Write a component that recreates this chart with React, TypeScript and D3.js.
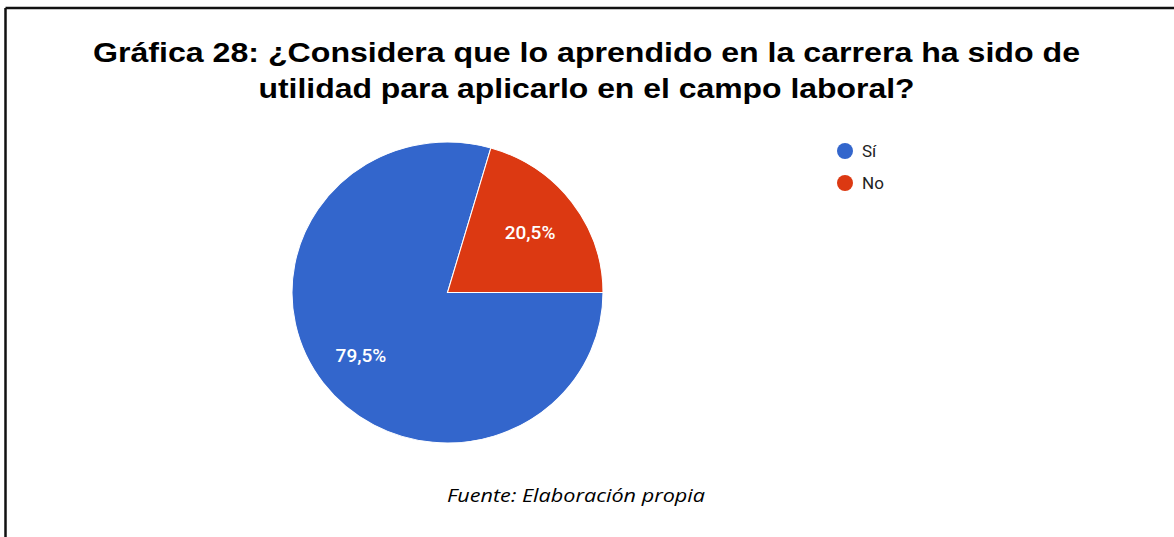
import React, { useEffect } from "react";
import * as d3 from "d3";

const categories = ["Sí", "No"];
const values = [79.5, 20.5];
const colors = ["#3366cc", "#dc3912"];
const titleLines = [
  "Gráfica 28: ¿Considera que lo aprendido en la carrera ha sido de",
  "utilidad para aplicarlo en el campo laboral?",
];
const source = "Fuente: Elaboración propia";

const W = 1174;
const H = 537;

export default function App() {
  useEffect(() => {
    document.body.style.margin = "0";
  }, []);

  const cx = 447.5;
  const cy = 292.5;
  const rx = 155.5;
  const ry = 150.5;
  const sx = rx / ry;

  const data = categories.map((c, i) => ({ name: c, value: values[i], color: colors[i] }));
  const pie = d3
    .pie<any>()
    .value((d) => d.value)
    .sort(null)
    .startAngle(Math.PI / 2)
    .endAngle(Math.PI / 2 + 2 * Math.PI);
  const arcs = pie(data);
  const arc = d3.arc<any>().innerRadius(0).outerRadius(ry);
  const labelArc = d3.arc<any>().innerRadius(ry * 0.68).outerRadius(ry * 0.68);
  const fmt = (v: number) => v.toFixed(1).replace(".", ",") + "%";

  // widths of the title lines as seen in the picture
  const titleWidths = [987, 656];

  return (
    <svg width={W} height={H} style={{ display: "block", background: "#fff" }}>
      {/* frame */}
      <line x1={5.5} y1={8} x2={W} y2={8} stroke="#111" strokeWidth={2.5} />
      <line x1={5.5} y1={8} x2={5.5} y2={H} stroke="#111" strokeWidth={2.5} />

      {titleLines.map((t, i) => (
        <text
          key={i}
          x={586.5}
          y={62 + i * 36}
          textAnchor="middle"
          fontFamily="'Liberation Sans', Arial, sans-serif"
          fontWeight="bold"
          fontSize={28}
          textLength={titleWidths[i]}
          lengthAdjust="spacingAndGlyphs"
          fill="#000"
        >
          {t}
        </text>
      ))}

      <g transform={`translate(${cx},${cy}) scale(${sx},1)`}>
        {arcs.map((a, i) => (
          <path key={i} d={arc(a) as string} fill={a.data.color} stroke="#fff" strokeWidth={1} />
        ))}
      </g>
      {arcs.map((a, i) => {
        const [lx, ly] = labelArc.centroid(a);
        return (
          <text
            key={i}
            x={cx + lx * sx - 2}
            y={cy + ly + 1}
            dy="0.35em"
            textAnchor="middle"
            fontFamily="Roboto, Arial, sans-serif"
            fontWeight={500}
            fontSize={19}
            fill="#fff"
          >
            {fmt(a.data.value)}
          </text>
        );
      })}

      {data.map((d, i) => (
        <g key={i} transform={`translate(845,${151 + i * 32})`}>
          <circle r={8} fill={d.color} />
          <text x={17} dy="0.35em" fontFamily="Roboto, Arial, sans-serif" fontSize={17} fill="#222">
            {d.name}
          </text>
        </g>
      ))}

      <text
        x={576}
        y={502}
        textAnchor="middle"
        fontFamily="'Open Sans', Carlito, sans-serif"
        fontStyle="italic"
        fontSize={19}
        textLength={258}
        lengthAdjust="spacingAndGlyphs"
        fill="#000"
      >
        {source}
      </text>
    </svg>
  );
}
